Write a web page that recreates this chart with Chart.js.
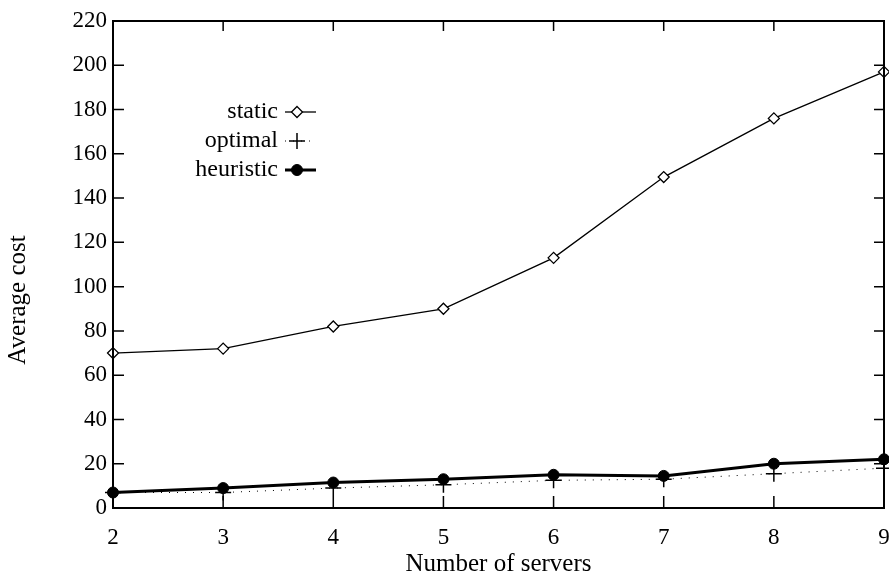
<!DOCTYPE html>
<html>
<head>
<meta charset="utf-8">
<script src="https://cdn.jsdelivr.net/npm/chart.js@4/dist/chart.umd.min.js"></script>
<style>
  html, body { margin: 0; padding: 0; background: #fff; }
  #wrap { width: 889px; height: 579px; }
</style>
</head>
<body>
<div id="wrap"><canvas id="myChart" width="889" height="579"></canvas></div>
<script>
var servers = ['2', '3', '4', '5', '6', '7', '8', '9']
var staticCost = [70, 72, 82, 90, 113, 149.5, 176, 197]
var optimalCost = [7, 7, 9, 10.5, 12.5, 13, 15.5, 18]
var heuristicCost = [7, 9, 11.5, 13, 15, 14.5, 20, 22]

var font = "'Liberation Serif', 'DejaVu Serif', serif"

// inward tick marks on all four sides, y title, and a custom legend
var frame = {
    id: 'frame',
    afterDraw(chart) {
        var c = chart.ctx, a = chart.chartArea
        var xs = chart.scales.x, ys = chart.scales.y
        c.save()
        c.strokeStyle = '#000'
        c.lineWidth = 1.5
        xs.ticks.forEach((t, i) => {
            var px = xs.getPixelForTick(i)
            c.beginPath()
            c.moveTo(px, a.bottom); c.lineTo(px, a.bottom - 12)
            c.moveTo(px, a.top); c.lineTo(px, a.top + 10)
            c.stroke()
        })
        ys.ticks.forEach(t => {
            var py = ys.getPixelForValue(t.value)
            c.beginPath()
            c.moveTo(a.left, py); c.lineTo(a.left + 11, py)
            c.moveTo(a.right, py); c.lineTo(a.right - 10, py)
            c.stroke()
        })
        c.lineWidth = 2
        c.strokeRect(a.left, a.top, a.right - a.left, a.bottom - a.top)

        // y axis title
        c.save()
        c.translate(18, 300)
        c.rotate(-Math.PI / 2)
        c.font = '25px ' + font
        c.fillStyle = '#000'
        c.textAlign = 'center'
        c.textBaseline = 'middle'
        c.fillText('Average cost', 0, 0)
        c.restore()

        // legend
        var items = [
            { text: 'static', ds: chart.data.datasets[0], y: 112 },
            { text: 'optimal', ds: chart.data.datasets[1], y: 141 },
            { text: 'heuristic', ds: chart.data.datasets[2], y: 170 }
        ]
        c.font = '24px ' + font
        c.textAlign = 'right'
        c.textBaseline = 'middle'
        items.forEach(it => {
            c.fillStyle = '#000'
            c.fillText(it.text, 278, it.y)
            c.beginPath()
            c.strokeStyle = '#000'
            c.lineWidth = it.ds.borderWidth
            c.setLineDash(it.ds.borderDash || [])
            c.moveTo(285, it.y); c.lineTo(316, it.y)
            c.stroke()
            c.setLineDash([])
            c.fillStyle = it.ds.pointBackgroundColor
            c.lineWidth = it.ds.pointBorderWidth
            c.beginPath()
            var r = it.ds.pointRadius, cx = 297
            if (it.ds.pointStyle === 'rectRot') {
                c.moveTo(cx, it.y - r); c.lineTo(cx + r, it.y); c.lineTo(cx, it.y + r); c.lineTo(cx - r, it.y); c.closePath()
                c.fill(); c.stroke()
            } else if (it.ds.pointStyle === 'circle') {
                c.arc(cx, it.y, r, 0, Math.PI * 2)
                c.fill(); c.stroke()
            } else {
                c.moveTo(cx - r, it.y); c.lineTo(cx + r, it.y)
                c.moveTo(cx, it.y - r); c.lineTo(cx, it.y + r)
                c.stroke()
            }
        })
        c.restore()
    }
}

var ctx = document.getElementById('myChart').getContext('2d')
var myChart = new Chart(ctx, {
    type: 'line',
    data: {
        labels: servers,
        datasets: [{
            label: 'static',
            data: staticCost,
            borderColor: '#000',
            borderWidth: 1.3,
            pointStyle: 'rectRot',
            pointRadius: 5.5,
            pointBorderWidth: 1.3,
            pointBackgroundColor: '#fff',
            pointBorderColor: '#000',
            tension: 0
        }, {
            label: 'optimal',
            data: optimalCost,
            borderColor: '#000',
            borderWidth: 1,
            borderDash: [1, 7],
            pointStyle: 'cross',
            pointRadius: 8,
            pointBorderWidth: 1.5,
            pointBackgroundColor: '#000',
            pointBorderColor: '#000',
            tension: 0
        }, {
            label: 'heuristic',
            data: heuristicCost,
            borderColor: '#000',
            borderWidth: 3,
            pointStyle: 'circle',
            pointRadius: 5.5,
            pointBorderWidth: 1,
            pointBackgroundColor: '#000',
            pointBorderColor: '#000',
            tension: 0
        }]
    },
    options: {
        responsive: false,
        animation: false,
        layout: { autoPadding: false, padding: { left: 0, right: 5, top: 21, bottom: 0 } },
        plugins: {
            legend: { display: false },
            tooltip: { enabled: false }
        },
        scales: {
            x: {
                offset: false,
                grid: { display: false, drawTicks: false },
                border: { display: false },
                ticks: { color: '#000', font: { family: font, size: 23 }, padding: 16, maxRotation: 0 },
                title: { display: true, text: 'Number of servers', color: '#000', font: { family: font, size: 25 }, padding: { top: 0, bottom: 0 } },
                afterFit(s) { s.height = 71; s.paddingLeft = 0; s.paddingRight = 0 }
            },
            y: {
                min: 0,
                max: 220,
                grid: { display: false, drawTicks: false },
                border: { display: false },
                ticks: { stepSize: 20, color: '#000', font: { family: font, size: 23 }, padding: 6 },
                afterFit(s) { s.width = 113; s.paddingTop = 0; s.paddingBottom = 0 }
            }
        }
    },
    plugins: [frame]
})
</script>
</body>
</html>
